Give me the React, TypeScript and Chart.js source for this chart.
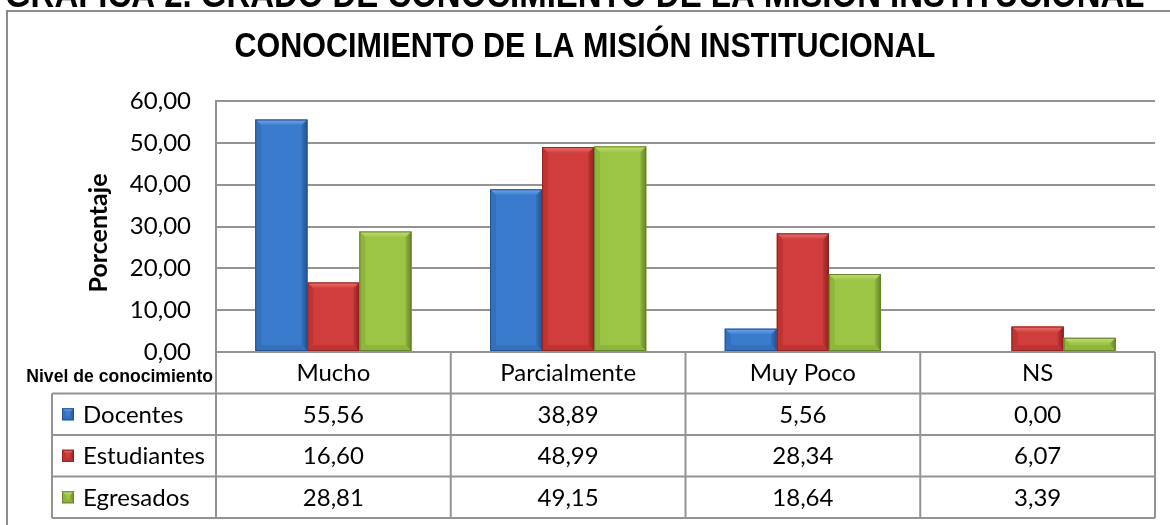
import React, { useEffect, useRef } from 'react';
import { Chart, registerables } from 'chart.js';

Chart.register(...registerables);

// ---- data ----
const categories = ['Mucho', 'Parcialmente', 'Muy Poco', 'NS'];
const seriesNames = ['Docentes', 'Estudiantes', 'Egresados'];
const docentes = [55.56, 38.89, 5.56, 0.0];
const estudiantes = [16.6, 48.99, 28.34, 6.07];
const egresados = [28.81, 49.15, 18.64, 3.39];
const yMin = 0;
const yMax = 60;
const yStep = 10;
const chartTitle = 'CONOCIMIENTO DE LA MISIÓN INSTITUCIONAL';
const captionText = 'GRAFICA 2. GRADO DE CONOCIMIENTO DE LA MISIÓN INSTITUCIONAL';
const yAxisTitle = 'Porcentaje';
const tableCornerLabel = 'Nivel de conocimiento';

type Pal = { face: string; light: string; side: string; dark: string };
const palettes: Pal[] = [
  { face: '#3b7bcd', light: '#74aaec', side: '#3570bd', dark: '#22538f' },
  { face: '#d03d3c', light: '#ea7672', side: '#bf3433', dark: '#8e2322' },
  { face: '#9cc545', light: '#c3e078', side: '#8eb63c', dark: '#66822a' },
];

const seriesValues = [docentes, estudiantes, egresados];

const fmt = (v: number) => v.toFixed(2).replace('.', ',');

const GRID = '#939393';
const TXT_FONT = 'Lato, "Open Sans", sans-serif';
const ARIAL = '"Liberation Sans", Arial, sans-serif';

function drawBevel(ctx: CanvasRenderingContext2D, l: number, t: number, r: number, b: number, pal: Pal, bev: number) {
  const w = r - l;
  const h = b - t;
  if (w <= 0 || h <= 0.5) return;
  const s = Math.min(bev, h / 2, w / 2);
  ctx.save();
  ctx.fillStyle = pal.face;
  ctx.fillRect(l, t, w, h);
  // top bevel
  const gt = ctx.createLinearGradient(0, t, 0, t + s);
  gt.addColorStop(0, pal.light);
  gt.addColorStop(1, pal.face);
  ctx.fillStyle = gt;
  ctx.beginPath();
  ctx.moveTo(l, t); ctx.lineTo(r, t); ctx.lineTo(r - s, t + s); ctx.lineTo(l + s, t + s); ctx.closePath();
  ctx.fill();
  // left bevel
  ctx.fillStyle = pal.side;
  ctx.beginPath();
  ctx.moveTo(l, t); ctx.lineTo(l + s, t + s); ctx.lineTo(l + s, b - s); ctx.lineTo(l, b); ctx.closePath();
  ctx.fill();
  // right bevel
  const gr = ctx.createLinearGradient(r - s, 0, r, 0);
  gr.addColorStop(0, pal.side);
  gr.addColorStop(1, pal.dark);
  ctx.fillStyle = gr;
  ctx.beginPath();
  ctx.moveTo(r, t); ctx.lineTo(r - s, t + s); ctx.lineTo(r - s, b - s); ctx.lineTo(r, b); ctx.closePath();
  ctx.fill();
  // bottom bevel
  ctx.fillStyle = pal.side;
  ctx.beginPath();
  ctx.moveTo(l, b); ctx.lineTo(l + s, b - s); ctx.lineTo(r - s, b - s); ctx.lineTo(r, b); ctx.closePath();
  ctx.fill();
  ctx.strokeStyle = pal.dark;
  ctx.lineWidth = 1;
  ctx.strokeRect(l + 0.5, t + 0.5, w - 1, h - 1);
  ctx.restore();
}

const decorPlugin = {
  id: 'decor',
  beforeDraw(chart: any) {
    const ctx: CanvasRenderingContext2D = chart.ctx;
    ctx.save();
    ctx.fillStyle = '#ffffff';
    ctx.fillRect(0, 0, chart.width, chart.height);
    // clipped caption at very top
    ctx.font = `bold 100px ${ARIAL}`;
    const wm = ctx.measureText(captionText).width;
    const size = (1140 / wm) * 100;
    ctx.font = `bold ${size}px ${ARIAL}`;
    ctx.fillStyle = '#000';
    ctx.textAlign = 'left';
    ctx.textBaseline = 'alphabetic';
    ctx.save();
    ctx.translate(5, 7);
    ctx.scale(1, 1.15);
    ctx.fillText(captionText, 0, 0);
    ctx.restore();
    // frame
    ctx.strokeStyle = '#8c8c8c';
    ctx.lineWidth = 2;
    ctx.beginPath();
    ctx.moveTo(7, chart.height + 5);
    ctx.lineTo(7, 11);
    ctx.lineTo(chart.width + 5, 11);
    ctx.stroke();
    // title
    ctx.save();
    ctx.font = `bold 30.5px ${ARIAL}`;
    ctx.textAlign = 'center';
    ctx.translate(585, 57);
    ctx.scale(1, 1.16);
    ctx.fillText(chartTitle, 0, 0);
    ctx.restore();
    // y axis title
    ctx.save();
    ctx.translate(99, 233);
    ctx.rotate(-Math.PI / 2);
    ctx.font = `bold 25px ${TXT_FONT}`;
    ctx.textAlign = 'center';
    ctx.textBaseline = 'middle';
    ctx.fillText(yAxisTitle, 0, 0);
    ctx.restore();
    ctx.restore();
  },
  afterDatasetsDraw(chart: any) {
    const ctx: CanvasRenderingContext2D = chart.ctx;
    chart.data.datasets.forEach((ds: any, di: number) => {
      const meta = chart.getDatasetMeta(di);
      meta.data.forEach((el: any) => {
        const p = el.getProps(['x', 'y', 'base', 'width'], true);
        const l = p.x - p.width / 2;
        const r = p.x + p.width / 2;
        const t = Math.min(p.y, p.base);
        const b = Math.max(p.y, p.base);
        drawBevel(ctx, l, t, r, b, palettes[di], 6);
      });
    });
  },
  afterDraw(chart: any) {
    const ctx: CanvasRenderingContext2D = chart.ctx;
    const area = chart.chartArea;
    const xs = chart.scales.x;
    const catW = (area.right - area.left) / categories.length;
    const top = area.bottom;
    const rowH = 41.5;
    const labelLeft = 52;
    const nRows = seriesNames.length;
    const bottom = top + rowH * (nRows + 1);
    ctx.save();
    ctx.strokeStyle = GRID;
    ctx.lineWidth = 2;
    ctx.beginPath();
    ctx.moveTo(area.left, top); ctx.lineTo(area.right, top);
    for (let i = 1; i <= nRows + 1; i++) {
      const y = top + rowH * i;
      ctx.moveTo(labelLeft, y); ctx.lineTo(area.right, y);
    }
    for (let c = 0; c <= categories.length; c++) {
      const x = area.left + catW * c;
      ctx.moveTo(x, top); ctx.lineTo(x, bottom);
    }
    ctx.moveTo(labelLeft, top + rowH); ctx.lineTo(labelLeft, bottom);
    ctx.stroke();

    ctx.fillStyle = '#000';
    ctx.textBaseline = 'middle';
    ctx.textAlign = 'center';
    ctx.font = `24px ${TXT_FONT}`;
    categories.forEach((c, i) => {
      ctx.fillText(c, xs.getPixelForValue(i), top + rowH / 2 + 1);
    });
    seriesValues.forEach((vals, si) => {
      const cy = top + rowH * (si + 1) + rowH / 2 + 1;
      vals.forEach((v, i) => {
        ctx.fillText(fmt(v), xs.getPixelForValue(i), cy);
      });
    });
    ctx.textAlign = 'left';
    seriesNames.forEach((n, si) => {
      const cy = top + rowH * (si + 1) + rowH / 2;
      drawBevel(ctx, 62, cy - 6, 74, cy + 6, palettes[si], 4);
      ctx.fillStyle = '#000';
      ctx.fillText(n, 83, cy + 1);
    });
    ctx.textAlign = 'right';
    ctx.font = `bold 17.6px ${ARIAL}`;
    ctx.fillText(tableCornerLabel, 213, top + 25);
    ctx.restore();
  },
};

export default function App() {
  const ref = useRef<HTMLCanvasElement | null>(null);
  useEffect(() => {
    if (!ref.current) return;
    const chart = new Chart(ref.current, {
      type: 'bar',
      data: {
        labels: categories,
        datasets: seriesNames.map((n, i) => ({
          label: n,
          data: seriesValues[i],
          backgroundColor: palettes[i].face,
          borderWidth: 0,
          categoryPercentage: 0.665,
          barPercentage: 1,
        })),
      },
      options: {
        responsive: false,
        animation: false,
        devicePixelRatio: 1,
        layout: { padding: { left: 0, top: 101, right: 15, bottom: 173 } },
        plugins: { legend: { display: false }, title: { display: false }, tooltip: { enabled: false } },
        scales: {
          x: { display: false, grid: { display: false } },
          y: {
            min: yMin,
            max: yMax,
            afterFit: (scale: any) => { scale.width = 216; },
            ticks: {
              stepSize: yStep,
              padding: 25,
              color: '#000',
              font: { family: TXT_FONT, size: 24 },
              callback: (v: any) => fmt(Number(v)),
            },
            grid: { color: GRID, lineWidth: 2, drawTicks: false },
            border: { display: true, color: GRID, width: 2 },
          },
        },
      },
      plugins: [decorPlugin],
    });
    return () => chart.destroy();
  }, []);
  return (
    <div style={{ position: 'absolute', left: 0, top: 0, width: 1170, height: 525, overflow: 'hidden', background: '#fff' }}>
      <canvas ref={ref} width={1170} height={525} style={{ width: 1170, height: 525, display: 'block' }} />
    </div>
  );
}
